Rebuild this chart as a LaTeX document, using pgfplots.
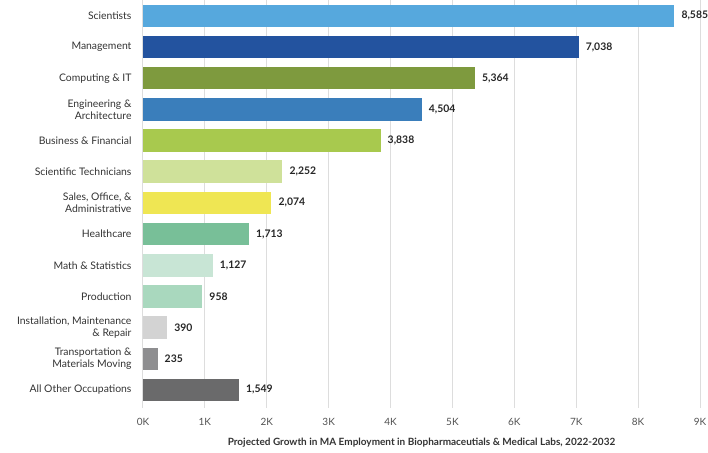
\documentclass[border=0pt]{standalone}
\usepackage{pgfplots}
\pgfplotsset{compat=1.18}
\usepackage{fontspec}
\setmainfont{Lato}
\definecolor{c1}{HTML}{56A8DD}
\definecolor{c2}{HTML}{23539F}
\definecolor{c3}{HTML}{7E9A3E}
\definecolor{c4}{HTML}{3A7EBB}
\definecolor{c5}{HTML}{A8C94E}
\definecolor{c6}{HTML}{CFE19A}
\definecolor{c7}{HTML}{EFE653}
\definecolor{c8}{HTML}{78BF98}
\definecolor{c9}{HTML}{C8E5D5}
\definecolor{c10}{HTML}{A9D8BE}
\definecolor{c11}{HTML}{D3D3D3}
\definecolor{c12}{HTML}{8E8E90}
\definecolor{c13}{HTML}{6A6A6B}
\definecolor{gridc}{HTML}{DDDDDD}
\definecolor{labc}{HTML}{333333}
\begin{document}
\begin{tikzpicture}
\begin{axis}[
  name=ax,
  scale only axis,
  width=557pt, height=408pt,
  xbar, bar width=22.5pt, bar shift=0pt,
  y dir=reverse,
  xmin=0, xmax=9000,
  ymin=-0.51, ymax=12.58,
  xtick={0,1000,...,9000},
  xticklabels={0K,1K,2K,3K,4K,5K,6K,7K,8K,9K},
  ytick={0,...,12},
  yticklabels={Scientists, Management, Computing \& IT, {Engineering \&\\Architecture}, Business \& Financial, Scientific Technicians, {Sales, Office, \&\\Administrative}, Healthcare, Math \& Statistics, Production, {Installation, Maintenance\\\& Repair}, {Transportation \&\\Materials Moving}, All Other Occupations},
  y tick label style={align=right, font=\fontsize{10.4}{12}\selectfont, text=labc},
  x tick label style={font=\fontsize{10}{11}\selectfont, text=labc!85},
  yticklabel style={xshift=-8pt},
  xticklabel style={yshift=-7pt},
  major tick length=0pt,
  axis line style={draw=none},
  xmajorgrids, grid style={gridc, line width=1pt},
  xlabel={Projected Growth in MA Employment in Biopharmaceutials \& Medical Labs, 2022-2032},
  xlabel style={font=\bfseries\fontsize{10}{11}\selectfont, text=labc, yshift=-5pt},
  /pgf/number format/1000 sep={,},
  /pgf/number format/assume math mode=true,
  nodes near coords,
  nodes near coords style={font=\bfseries\fontsize{10.4}{12}\selectfont, text=black!85, anchor=west, inner sep=0pt, xshift=7pt},
  every axis plot/.append style={draw=none},
]
\addplot[fill=c1] coordinates {(8585,0)};
\addplot[fill=c2] coordinates {(7038,1)};
\addplot[fill=c3] coordinates {(5364,2)};
\addplot[fill=c4] coordinates {(4504,3)};
\addplot[fill=c5] coordinates {(3838,4)};
\addplot[fill=c6] coordinates {(2252,5)};
\addplot[fill=c7] coordinates {(2074,6)};
\addplot[fill=c8] coordinates {(1713,7)};
\addplot[fill=c9] coordinates {(1127,8)};
\addplot[fill=c10] coordinates {(958,9)};
\addplot[fill=c11] coordinates {(390,10)};
\addplot[fill=c12] coordinates {(235,11)};
\addplot[fill=c13] coordinates {(1549,12)};
\end{axis}
\pgfresetboundingbox
\path[use as bounding box] ([xshift=-143pt,yshift=-44pt]ax.south west) rectangle ([xshift=8pt]ax.north east);
\end{tikzpicture}
\end{document}
